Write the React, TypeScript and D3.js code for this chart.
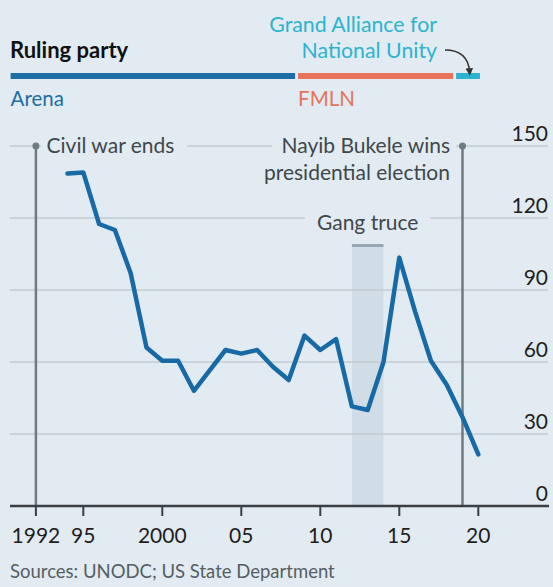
import React from "react";
import * as d3 from "d3";

// homicides per 100,000 people, El Salvador
const years = [1994, 1995, 1996, 1997, 1998, 1999, 2000, 2001, 2002, 2003, 2004, 2005, 2006, 2007, 2008, 2009, 2010, 2011, 2012, 2013, 2014, 2015, 2016, 2017, 2018, 2019, 2020];
const homicideRate = [138.5, 139, 117.5, 115, 97, 66, 60.5, 60.5, 48, 56.5, 65, 63.5, 65, 58, 52.5, 71, 65, 69.5, 41.5, 40, 60, 103.5, 81, 60.5, 50.5, 37, 21.5];

const xTicks = [1992, 1995, 2000, 2005, 2010, 2015, 2020];
const xTickLabels = ["1992", "95", "2000", "05", "10", "15", "20"];
const yTicks = [0, 30, 60, 90, 120, 150];

const parties = ["Arena", "FMLN", "GANA"];
const partyStart = [1990.4, 2008.5, 2018.5];
const partyEnd = [2008.5, 2018.5, 2020.2];

const truceYears = [2012, 2014];
const civilWarYear = 1992;
const bukeleYear = 2019;

const W = 553;
const H = 587;
const BG = "#e2ebf1";
const FONT = "Lato, 'Open Sans', sans-serif";
const TEXT = "#3e474c";

function App() {
  const x = d3.scaleLinear().domain([2000, 2020]).range([162.3, 478.3]);
  const y = d3.scaleLinear().domain([0, 150]).range([506, 146]);
  const partyColor = d3.scaleOrdinal<string, string>().domain(parties).range(["#1d6ea4", "#e8735a", "#2cb3d0"]);

  const line = d3
    .line<number>()
    .x((_, i) => x(years[i]))
    .y((d) => y(d))
    .curve(d3.curveLinear);

  const top = y(150);
  const base = y(0);
  const truceTop = y(108.5);

  return (
    <svg width={W} height={H} style={{ position: "fixed", left: 0, top: 0, background: BG }} fontFamily={FONT}>
      <defs>
        <marker id="arr" viewBox="0 0 10 10" refX="5" refY="5" markerWidth="5" markerHeight="5" orient="auto">
          <path d="M0,0 L10,5 L0,10 z" fill="#333" />
        </marker>
      </defs>
      <rect width={W} height={H} fill={BG} />

      {/* ruling party strip */}
      <text x={10} y={58} fontSize={22} fontWeight="bold" fill="#111">Ruling party</text>
      {parties.map((p, i) => (
        <line key={p} x1={x(partyStart[i]) + (i ? 1.5 : 0)} x2={x(partyEnd[i]) - 1.5} y1={76} y2={76} stroke={partyColor(p)} strokeWidth={6} />
      ))}
      <text x={x(partyStart[0])} y={106} fontSize={20.5} fill={partyColor("Arena")}>Arena</text>
      <text x={x(partyStart[1]) + 1.5} y={106} fontSize={20.5} fill={partyColor("FMLN")}>FMLN</text>
      <text x={437} y={32} fontSize={21.3} textAnchor="end" fill={partyColor("GANA")}>Grand Alliance for</text>
      <text x={437} y={58} fontSize={21.3} textAnchor="end" fill={partyColor("GANA")}>National Unity</text>
      <path d={`M445,50 Q468,50 ${x(2019.45)},72`} fill="none" stroke="#333" strokeWidth={1.5} markerEnd="url(#arr)" />

      {/* gang truce shading */}
      <rect x={x(truceYears[0])} y={truceTop} width={x(truceYears[1]) - x(truceYears[0])} height={base - truceTop} fill="#d0dde7" />
      <line x1={x(truceYears[0])} x2={x(truceYears[1])} y1={truceTop} y2={truceTop} stroke="#9aa6ad" strokeWidth={3} />

      {/* grid */}
      {yTicks.slice(1).map((t) => (
        <line key={t} x1={10} x2={548} y1={y(t)} y2={y(t)} stroke="#c2cbd0" strokeWidth={1.5} />
      ))}
      {yTicks.map((t) => (
        <text key={t} x={548} y={y(t) - 5} fontSize={21} textAnchor="end" fill="#1e1e1e">{t}</text>
      ))}

      {/* annotations */}
      {[civilWarYear, bukeleYear].map((yr) => (
        <g key={yr}>
          <line x1={x(yr)} x2={x(yr)} y1={top} y2={base} stroke="#6f7b82" strokeWidth={2.5} />
          <circle cx={x(yr)} cy={top} r={3.5} fill="#6f7b82" />
        </g>
      ))}
      <rect x={41} y={130} width={146} height={28} fill={BG} />
      <text x={46.5} y={153} fontSize={21} fill={TEXT}>Civil war ends</text>
      <rect x={272} y={130} width={184} height={28} fill={BG} />
      <text x={450} y={153} fontSize={21} textAnchor="end" fill={TEXT}>Nayib Bukele wins</text>
      <text x={450} y={180} fontSize={21} textAnchor="end" fill={TEXT}>presidential election</text>
      <rect x={305} y={205} width={125} height={28} fill={BG} />
      <text x={x(2013)} y={230} fontSize={21} textAnchor="middle" fill={TEXT}>Gang truce</text>

      {/* series */}
      <path d={line(homicideRate) ?? ""} fill="none" stroke="#176aa5" strokeWidth={4.5} strokeLinejoin="round" strokeLinecap="round" />

      {/* x axis */}
      <line x1={10} x2={549} y1={base} y2={base} stroke="#3a3f44" strokeWidth={2.5} />
      {xTicks.map((t, i) => (
        <g key={t}>
          <line x1={x(t)} x2={x(t)} y1={base} y2={base + 10} stroke="#3a3f44" strokeWidth={2} />
          <text x={x(t)} y={542.5} fontSize={21} textAnchor="middle" fill="#1e1e1e">{xTickLabels[i]}</text>
        </g>
      ))}

      <text x={10} y={578} fontSize={18.5} fill="#555e63">Sources: UNODC; US State Department</text>
    </svg>
  );
}

export default App;
